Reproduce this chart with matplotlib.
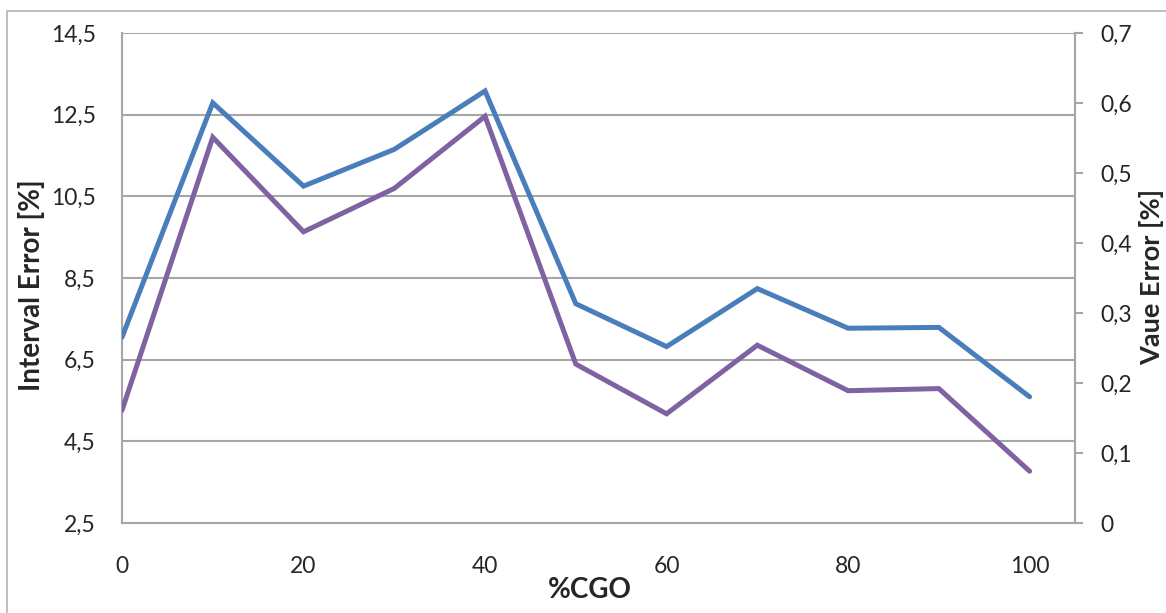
import matplotlib
matplotlib.use("Agg")
import matplotlib.pyplot as plt
from matplotlib.patches import Rectangle
from matplotlib.ticker import FuncFormatter, FixedLocator

# Data
cgo = [0, 10, 20, 30, 40, 50, 60, 70, 80, 90, 100]
interval_error = [7.05, 12.79, 10.75, 11.65, 13.08, 7.87, 6.82, 8.24, 7.27, 7.29, 5.59]
value_error = [0.161, 0.551, 0.416, 0.478, 0.581, 0.227, 0.156, 0.254, 0.189, 0.192, 0.074]

left_ticks = [2.5, 4.5, 6.5, 8.5, 10.5, 12.5, 14.5]
right_ticks = [0, 0.1, 0.2, 0.3, 0.4, 0.5, 0.6, 0.7]
x_ticks = [0, 20, 40, 60, 80, 100]

BLUE = "#4A7EBB"
PURPLE = "#7F62A1"
GRID = "#A6A6A6"
TEXT = "#262626"

plt.rcParams["font.family"] = ["Lato", "DejaVu Sans"]

W, H, DPI = 1166, 613, 100
fig = plt.figure(figsize=(W / DPI, H / DPI), dpi=DPI)

# Outer chart frame
fig.patches.append(Rectangle((7 / W, -0.1), 1.2, 1 - 11 / H + 0.1,
                             transform=fig.transFigure, fill=False,
                             edgecolor="#B4B4B4", linewidth=1.2))

ax = fig.add_axes([122 / W, 1 - 523 / H, (1075 - 122) / W, (523 - 33) / H])
ax2 = ax.twinx()


def comma(v, pos=None):
    s = f"{v:g}"
    return s.replace(".", ",")


ax.plot(cgo, interval_error, color=BLUE, lw=3.6,
        solid_joinstyle="miter", solid_capstyle="round", zorder=3)
ax2.plot(cgo, value_error, color=PURPLE, lw=3.6,
         solid_joinstyle="miter", solid_capstyle="round", zorder=3)

ax.set_xlim(0, 105)
ax.set_ylim(2.5, 14.5)
ax2.set_ylim(0, 0.7)

ax.yaxis.set_major_locator(FixedLocator(left_ticks))
ax.yaxis.set_major_formatter(FuncFormatter(comma))
ax2.yaxis.set_major_locator(FixedLocator(right_ticks))
ax2.yaxis.set_major_formatter(FuncFormatter(comma))
ax.xaxis.set_major_locator(FixedLocator(x_ticks))

ax.grid(axis="y", color=GRID, lw=1.5, zorder=0)
ax.set_axisbelow(True)

for a in (ax, ax2):
    for side in ("left", "bottom", "right"):
        a.spines[side].set_color(GRID)
        a.spines[side].set_linewidth(1.5)
    a.spines["top"].set_visible(False)
ax2.spines["left"].set_visible(False)
ax2.spines["bottom"].set_visible(False)

ax.tick_params(axis="y", length=0, pad=19, labelsize=16.5, labelcolor=TEXT)
ax.tick_params(axis="x", length=0, pad=24, labelsize=16.5, labelcolor=TEXT)
ax2.tick_params(axis="y", length=6, width=1.5, color=GRID, pad=12,
                labelsize=16.5, labelcolor=TEXT)

# Axis titles placed in figure pixels
fig.text(32 / W, 1 - 285 / H, "Interval Error [%]", rotation=90,
         ha="center", va="center", fontsize=20, fontweight="bold", color=TEXT)
fig.text(1152 / W, 1 - 277 / H, "Vaue Error [%]", rotation=90,
         ha="center", va="center", fontsize=19.5, fontweight="bold", color=TEXT)
fig.text(590 / W, 1 - 590 / H, "%CGO", ha="center", va="center",
         fontsize=20, fontweight="bold", color=TEXT)

fig.savefig("out.png", dpi=DPI, facecolor="white")
